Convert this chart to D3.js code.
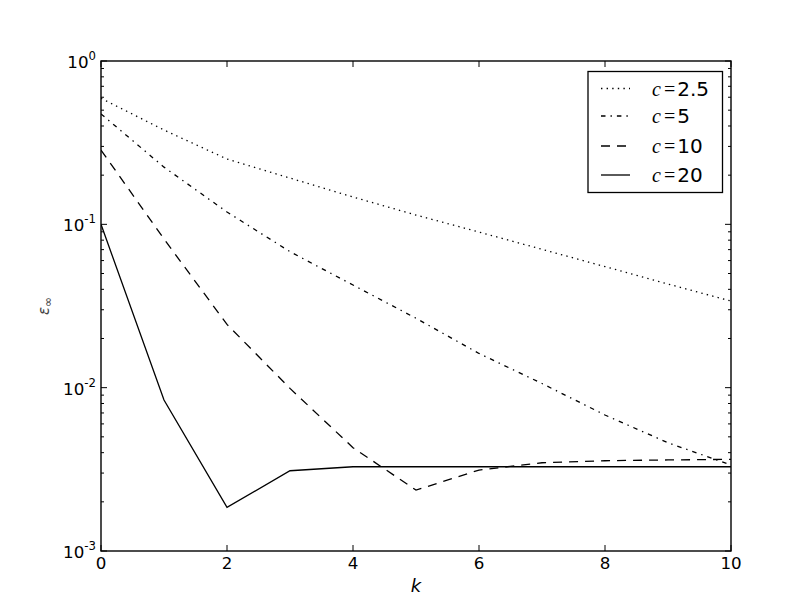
<!DOCTYPE html>
<html>
<head>
<meta charset="utf-8">
<script src="https://cdn.jsdelivr.net/npm/d3@7"></script>
<style>
  body { margin: 0; background: #fff; }
  text { font-family: "DejaVu Sans", sans-serif; }
</style>
</head>
<body>
<div id="main"></div>
<script>
const W = 812, H = 612;
const margin = {left: 101, top: 61, right: 81, bottom: 61};

// iteration index k
const ks = [0, 1, 2, 3, 4, 5, 6, 7, 8, 9, 10];
// error per shape parameter c
const err25 = [0.591, 0.378, 0.251, 0.192, 0.147, 0.114, 0.0897, 0.0703, 0.0551, 0.0431, 0.0339];
const err5  = [0.474, 0.224, 0.119, 0.068, 0.0425, 0.0266, 0.0162, 0.0106, 0.0068, 0.0046, 0.00336];
const err10 = [0.285, 0.0813, 0.0244, 0.0099, 0.00429, 0.00236, 0.00313, 0.00347, 0.00357, 0.00361, 0.00364];
const err20 = [0.1, 0.0084, 0.00185, 0.0031, 0.00328, 0.00328, 0.00328, 0.00328, 0.00328, 0.00328, 0.00328];

const cLabels = ["2.5", "5", "10", "20"];
const dashes = ["1.4,4.2", "4.5,5,1.4,5", "9,7", null];
const seriesList = [err25, err5, err10, err20];

const xTicks = [0, 2, 4, 6, 8, 10];
const yDecades = [0, -1, -2, -3];

let svg = d3.select("#main").append("svg").attr("width", W).attr("height", H);

let scaleX = d3.scaleLinear().domain([0, 10]).range([margin.left, W - margin.right]);
let scaleY = d3.scaleLog().domain([1e-3, 1]).range([H - margin.bottom, margin.top]);

const x0 = margin.left, x1 = W - margin.right, y0 = margin.top, y1 = H - margin.bottom;

// lines
let line = d3.line()
    .x(function (d, i) { return scaleX(ks[i]); })
    .y(function (d) { return scaleY(d); });

svg.append("defs").append("clipPath").attr("id", "clip")
    .append("rect").attr("x", x0).attr("y", y0).attr("width", x1 - x0).attr("height", y1 - y0);

seriesList.forEach(function (s, i) {
    svg.append("path")
        .datum(s)
        .attr("clip-path", "url(#clip)")
        .attr("fill", "none")
        .attr("stroke", "#000")
        .attr("stroke-width", 1.3)
        .attr("stroke-dasharray", dashes[i])
        .attr("d", line);
});

// ticks (inside, all four sides)
let tickG = svg.append("g").attr("stroke", "#000").attr("stroke-width", 1);
xTicks.forEach(function (t) {
    let x = scaleX(t);
    tickG.append("line").attr("x1", x).attr("x2", x).attr("y1", y1).attr("y2", y1 - 6);
    tickG.append("line").attr("x1", x).attr("x2", x).attr("y1", y0).attr("y2", y0 + 6);
});
yDecades.forEach(function (e) {
    let y = scaleY(Math.pow(10, e));
    tickG.append("line").attr("x1", x0).attr("x2", x0 + 6).attr("y1", y).attr("y2", y);
    tickG.append("line").attr("x1", x1).attr("x2", x1 - 6).attr("y1", y).attr("y2", y);
    if (e > -3) {
        for (let m = 2; m <= 9; m++) {
            let ym = scaleY(m * Math.pow(10, e - 1));
            tickG.append("line").attr("x1", x0).attr("x2", x0 + 3).attr("y1", ym).attr("y2", ym);
            tickG.append("line").attr("x1", x1).attr("x2", x1 - 3).attr("y1", ym).attr("y2", ym);
        }
    }
});

// frame
svg.append("rect")
    .attr("x", x0).attr("y", y0).attr("width", x1 - x0).attr("height", y1 - y0)
    .attr("fill", "none").attr("stroke", "#000").attr("stroke-width", 1.4);

// tick labels
xTicks.forEach(function (t) {
    svg.append("text")
        .attr("x", scaleX(t)).attr("y", y1 + 18)
        .attr("text-anchor", "middle")
        .attr("font-size", 16.7)
        .text(t);
});
yDecades.forEach(function (e) {
    let y = scaleY(Math.pow(10, e));
    let t = svg.append("text")
        .attr("x", x0 - 5).attr("y", y + 7)
        .attr("text-anchor", "end")
        .attr("font-size", 16.7);
    t.append("tspan").text("10");
    t.append("tspan").attr("font-size", 11.7).attr("dy", -8).text(e === 0 ? "0" : "-" + (-e));
});

// axis labels
svg.append("text")
    .attr("x", (x0 + x1) / 2).attr("y", 592)
    .attr("text-anchor", "middle")
    .attr("font-family", "Liberation Serif")
    .attr("font-style", "italic")
    .attr("font-size", 18)
    .text("k");

let yl = svg.append("text")
    .attr("transform", "translate(49," + ((y0 + y1) / 2) + ") rotate(-90)")
    .attr("text-anchor", "middle")
    .attr("font-family", "Liberation Serif")
    .attr("font-style", "italic")
    .attr("fill", "#444")
    .attr("font-size", 15);
yl.append("tspan").text("ε");
yl.append("tspan").attr("font-size", 12).attr("dy", 3).attr("font-style", "normal").text("∞");

// legend
let leg = svg.append("g");
leg.append("rect")
    .attr("x", 588).attr("y", 71.5).attr("width", 134.5).attr("height", 121)
    .attr("fill", "#fff").attr("stroke", "#000").attr("stroke-width", 1.3);
const rowY = [88.5, 116, 146, 175];
cLabels.forEach(function (c, i) {
    leg.append("line")
        .attr("x1", 601).attr("x2", 630).attr("y1", rowY[i]).attr("y2", rowY[i])
        .attr("stroke", "#000").attr("stroke-width", 1.3)
        .attr("stroke-dasharray", dashes[i]);
    let t = leg.append("text")
        .attr("x", 652).attr("y", rowY[i] + 7)
        .attr("font-size", 20);
    t.append("tspan").attr("font-family", "Liberation Serif").attr("font-style", "italic").text("c");
    t.append("tspan").attr("font-family", "Liberation Serif").attr("dx", 3).text("=");
    t.append("tspan").attr("dx", 2).text(c);
});
</script>
</body>
</html>
